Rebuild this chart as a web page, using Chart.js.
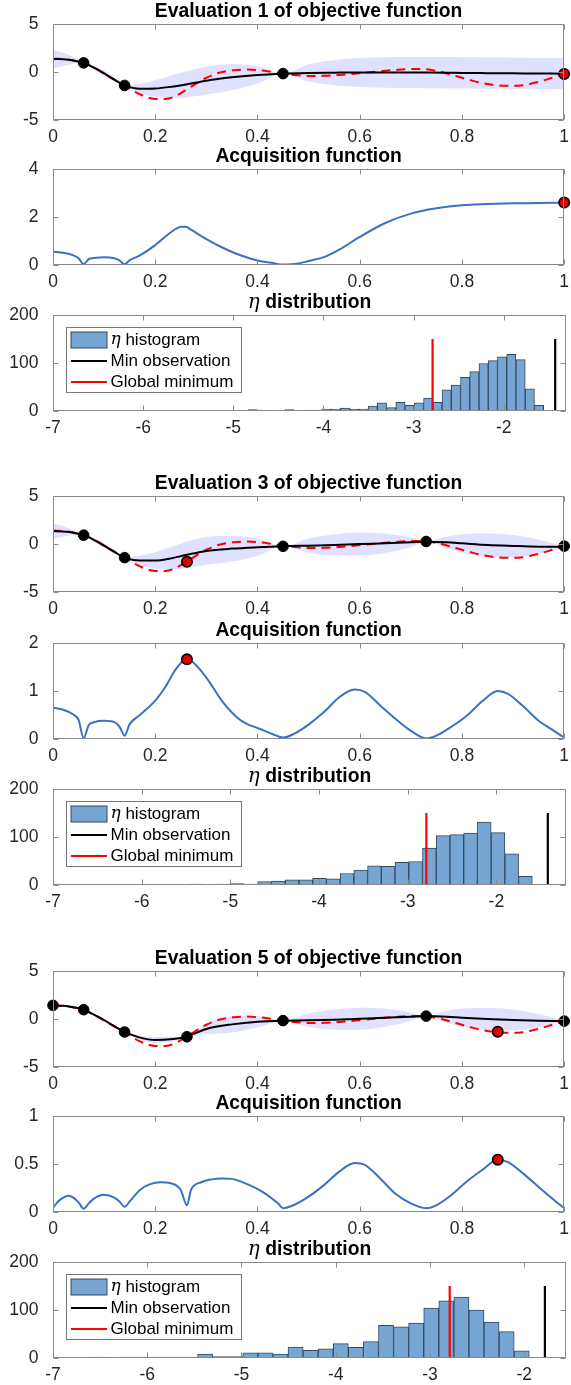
<!DOCTYPE html>
<html>
<head>
<meta charset="utf-8">
<script src="https://cdn.jsdelivr.net/npm/chart.js@4.4.1/dist/chart.umd.min.js"></script>
<style>
  html, body { margin: 0; padding: 0; background: #fff; }
  body { width: 571px; height: 1385px; position: relative; overflow: hidden; }
  canvas { position: absolute; left: 0; }
</style>
</head>
<body>
<script>
// ---- data ----
const panelTitles = [
  "Evaluation 1 of objective function", "Acquisition function", "η distribution",
  "Evaluation 3 of objective function", "Acquisition function", "η distribution",
  "Evaluation 5 of objective function", "Acquisition function", "η distribution"
];

// true objective (red dashed), same in every evaluation
const xTrue = [0, 0.02, 0.04, 0.06, 0.08, 0.10, 0.12, 0.14, 0.16, 0.18, 0.20, 0.22, 0.24, 0.26, 0.28, 0.30,
  0.32, 0.34, 0.36, 0.38, 0.40, 0.42, 0.45, 0.48, 0.50, 0.53, 0.56, 0.60, 0.64, 0.68, 0.71, 0.73,
  0.76, 0.79, 0.82, 0.85, 0.88, 0.91, 0.94, 0.97, 1.00];
const yTrue = [1.40, 1.35, 1.20, 0.95, 0.45, -0.15, -0.80, -1.40, -2.05, -2.55, -2.80, -2.80, -2.50, -1.88, -1.20, -0.60,
  -0.15, 0.10, 0.22, 0.25, 0.20, 0.08, -0.17, -0.35, -0.42, -0.40, -0.30, -0.12, 0.08, 0.25, 0.32, 0.28,
  0.00, -0.45, -0.90, -1.25, -1.42, -1.42, -1.15, -0.72, -0.20];

// GP mean and confidence band
const xObj = [0, 0.02, 0.04, 0.06, 0.08, 0.10, 0.12, 0.14, 0.17, 0.20, 0.23, 0.26, 0.30, 0.35, 0.40, 0.45,
  0.50, 0.55, 0.60, 0.65, 0.70, 0.73, 0.77, 0.80, 0.85, 0.90, 0.95, 1.00];
const mean1 = [1.35, 1.32, 1.20, 0.95, 0.45, -0.15, -0.80, -1.40, -1.75, -1.72, -1.55, -1.30, -0.90, -0.55, -0.30, -0.17,
  -0.10, -0.07, -0.05, -0.05, -0.05, -0.06, -0.08, -0.10, -0.12, -0.14, -0.16, -0.17];
const upper1 = [2.30, 2.02, 1.55, 0.95, 0.65, 0.13, -0.60, -1.40, -1.25, -0.87, -0.40, 0.05, 0.55, 0.80, 0.60, -0.17,
  0.80, 1.23, 1.45, 1.53, 1.57, 1.57, 1.55, 1.53, 1.51, 1.49, 1.47, 1.46];
const lower1 = [0.40, 0.62, 0.85, 0.95, 0.25, -0.43, -1.00, -1.40, -2.25, -2.57, -2.70, -2.65, -2.35, -1.90, -1.20, -0.17,
  -1.00, -1.37, -1.55, -1.63, -1.67, -1.69, -1.71, -1.73, -1.75, -1.77, -1.79, -1.80];

const mean3 = [1.35, 1.30, 1.18, 0.92, 0.42, -0.18, -0.82, -1.42, -1.72, -1.72, -1.50, -1.15, -0.72, -0.48, -0.34, -0.24,
  -0.17, -0.10, 0.00, 0.07, 0.17, 0.24, 0.17, 0.07, -0.10, -0.20, -0.28, -0.30];
const upper3 = [2.15, 1.85, 1.43, 0.92, 0.60, 0.07, -0.64, -1.42, -1.22, -0.87, -0.35, 0.20, 0.73, 0.87, 0.56, -0.24,
  0.58, 1.00, 1.20, 1.07, 0.67, 0.24, 0.77, 1.02, 1.10, 0.95, 0.47, -0.30];
const lower3 = [0.55, 0.75, 0.93, 0.92, 0.24, -0.43, -1.00, -1.42, -2.22, -2.57, -2.65, -2.50, -2.17, -1.83, -1.24, -0.24,
  -0.92, -1.20, -1.20, -0.93, -0.33, 0.24, -0.43, -0.88, -1.30, -1.35, -1.03, -0.30];

const mean5 = [1.42, 1.38, 1.22, 0.97, 0.45, -0.12, -0.75, -1.35, -1.94, -2.19, -2.12, -1.85, -1.04, -0.56, -0.28, -0.17,
  -0.14, -0.07, 0.03, 0.14, 0.24, 0.30, 0.24, 0.14, 0.00, -0.10, -0.17, -0.22];
const upper5 = [1.42, 1.43, 1.27, 0.97, 0.55, 0.00, -0.65, -1.35, -1.74, -1.89, -1.87, -1.85, -0.49, 0.29, 0.32, -0.17,
  0.56, 0.98, 1.18, 1.09, 0.69, 0.30, 0.84, 1.09, 1.15, 1.00, 0.53, -0.22];
const lower5 = [1.42, 1.33, 1.17, 0.97, 0.35, -0.24, -0.85, -1.35, -2.14, -2.49, -2.37, -1.85, -1.59, -1.41, -0.88, -0.17,
  -0.84, -1.12, -1.12, -0.81, -0.21, 0.30, -0.36, -0.81, -1.15, -1.20, -0.87, -0.22];

// observations (black) and the point evaluated now (red)
const obsX1 = [0.06, 0.14, 0.45];
const obsY1 = [0.95, -1.40, -0.17];
const obsX3 = [0.06, 0.14, 0.45, 0.73, 1.00];
const obsY3 = [0.92, -1.42, -0.24, 0.26, -0.22];
const obsX5 = [0, 0.06, 0.14, 0.262, 0.45, 0.73, 1.00];
const obsY5 = [1.42, 0.97, -1.35, -1.85, -0.17, 0.30, -0.22];
const nextX = [1.00, 0.262, 0.87];
const nextY = [-0.20, -1.86, -1.32];

// acquisition function
const acqX1 = [0, 0.02, 0.04, 0.05, 0.06, 0.07, 0.08, 0.10, 0.12, 0.13, 0.14, 0.15, 0.17, 0.20, 0.22, 0.24, 0.25, 0.26, 0.27,
  0.30, 0.33, 0.36, 0.40, 0.43, 0.45, 0.48, 0.50, 0.53, 0.56, 0.60, 0.65, 0.70, 0.75, 0.80, 0.85, 0.90, 0.95, 1.00];
const acqY1 = [0.56, 0.51, 0.40, 0.28, 0.03, 0.25, 0.29, 0.32, 0.28, 0.19, 0.03, 0.20, 0.40, 0.83, 1.19, 1.50, 1.59, 1.59, 1.47,
  1.08, 0.74, 0.46, 0.19, 0.08, 0.02, 0.06, 0.17, 0.33, 0.64, 1.17, 1.75, 2.14, 2.36, 2.49, 2.54, 2.57, 2.58, 2.60];
const acqX3 = [0, 0.02, 0.04, 0.05, 0.06, 0.07, 0.08, 0.10, 0.12, 0.13, 0.14, 0.15, 0.17, 0.20, 0.22, 0.24, 0.26, 0.27, 0.30,
  0.33, 0.36, 0.38, 0.40, 0.43, 0.45, 0.47, 0.50, 0.53, 0.56, 0.59, 0.61, 0.64, 0.67, 0.70, 0.73, 0.75, 0.78, 0.81, 0.84,
  0.87, 0.89, 0.92, 0.95, 0.98, 1.00];
const acqY3 = [0.65, 0.61, 0.51, 0.40, 0.02, 0.29, 0.35, 0.38, 0.35, 0.26, 0.07, 0.31, 0.50, 0.80, 1.09, 1.45, 1.65, 1.63, 1.28,
  0.80, 0.45, 0.31, 0.23, 0.10, 0.03, 0.10, 0.30, 0.56, 0.87, 1.03, 0.98, 0.70, 0.42, 0.17, 0.01, 0.07, 0.26, 0.49, 0.79,
  1.00, 0.94, 0.68, 0.38, 0.17, 0.03];
const acqX5 = [0, 0.01, 0.02, 0.03, 0.04, 0.05, 0.06, 0.07, 0.08, 0.10, 0.12, 0.13, 0.14, 0.15, 0.17, 0.19, 0.21, 0.23, 0.25,
  0.262, 0.27, 0.29, 0.31, 0.33, 0.35, 0.38, 0.41, 0.44, 0.45, 0.47, 0.50, 0.53, 0.56, 0.59, 0.61, 0.64, 0.67, 0.70, 0.73,
  0.75, 0.78, 0.81, 0.84, 0.87, 0.89, 0.92, 0.95, 0.98, 1.00];
const acqY5 = [0.045, 0.11, 0.15, 0.17, 0.15, 0.10, 0.035, 0.09, 0.14, 0.18, 0.15, 0.11, 0.055, 0.11, 0.23, 0.29, 0.31, 0.30, 0.23,
  0.07, 0.23, 0.31, 0.34, 0.35, 0.345, 0.29, 0.21, 0.09, 0.04, 0.07, 0.16, 0.28, 0.42, 0.51, 0.49, 0.35, 0.19, 0.09, 0.04,
  0.07, 0.18, 0.32, 0.44, 0.545, 0.52, 0.40, 0.26, 0.125, 0.04];
const acqMaxY = [2.60, 1.66, 0.545];

// eta histograms
const histStart = [-6.99, -7.013, -6.906];
const histWidth = [0.1025, 0.1548, 0.16];
const histCounts1 = [0, 0, 0, 1, 0, 0, 0, 0, 0, 0, 1, 0, 0, 0, 0, 0, 0, 0, 0, 1, 1, 3, 2, 1, 0, 3, 1, 2, 2, 4,
  4, 6, 4, 4, 10, 17, 7, 18, 12, 17, 27, 18, 44, 54, 70, 82, 99, 105, 113, 118, 107, 46, 12];
const histCounts3 = [2, 0, 0, 0, 0, 1, 1, 1, 1, 1, 2, 1, 2, 3, 2, 7, 8, 11, 11, 14, 13, 24, 31, 40, 39, 47, 49, 77,
  103, 105, 108, 131, 109, 65, 18];
const histCounts5 = [1, 0, 2, 0, 2, 2, 2, 2, 2, 8, 3, 3, 11, 11, 8, 23, 16, 19, 30, 22, 34, 68, 65, 73, 104, 119, 127,
  100, 75, 55, 15];
const histXMax = [-1.31, -1.215, -1.556];
const minObservation = [-1.43, -1.42, -1.78];
const globalMinimum = -2.79;
const markerHeight = 150;

// ---- layout / style ----
const plotTops = [24, 169, 315, 496, 643, 789, 971, 1116, 1262];
const FONT = '"Liberation Sans", Arial, Helvetica, sans-serif';
const TXT = "#262626";
const BOX = "#8a8a8a";
const BAND = "rgb(224,224,255)";
const ACQ = "#3a71c1";
const HIST = "rgb(119,166,212)";
const HIST_EDGE = "#34495e";

const pts = (xs, ys) => xs.map((x, i) => ({ x: x, y: ys[i] }));
const tickText = v => String(Math.round(v * 1000) / 1000);

// titles (η in TeX italic)
const titlePlugin = {
  id: "mtitle",
  afterDraw(chart, args, opts) {
    const { ctx, chartArea: a } = chart;
    const cx = (a.left + a.right) / 2, cy = a.top - 12.6;
    const bold = "bold 19.3px " + FONT;
    ctx.save();
    ctx.fillStyle = "#000";
    ctx.textBaseline = "middle";
    if (opts.text.startsWith("η")) {
      const f1 = 'italic 20px "DejaVu Serif", serif';
      const rest = opts.text.slice(1);
      ctx.font = f1; const w1 = ctx.measureText("η").width;
      ctx.font = bold; const w2 = ctx.measureText(rest).width;
      const x0 = cx - (w1 + w2) / 2;
      ctx.textAlign = "left";
      ctx.font = f1; ctx.fillText("η", x0, cy);
      ctx.font = bold; ctx.fillText(rest, x0 + w1, cy);
    } else {
      ctx.textAlign = "center";
      ctx.font = bold;
      ctx.fillText(opts.text, cx, cy);
    }
    ctx.restore();
  }
};

// MATLAB-like box with inward ticks on all sides
const boxPlugin = {
  id: "mbox",
  afterDatasetsDraw(chart) {
    const { ctx, chartArea: a, scales } = chart;
    const L = Math.round(a.left) + 0.5, R = Math.round(a.right) - 0.5;
    const T = Math.round(a.top) + 0.5, B = Math.round(a.bottom) - 0.5;
    const tl = 5;
    ctx.save();
    ctx.strokeStyle = BOX;
    ctx.lineWidth = 1;
    ctx.strokeRect(L, T, R - L, B - T);
    ctx.beginPath();
    scales.x.ticks.forEach(t => {
      const px = Math.round(scales.x.getPixelForValue(t.value)) + 0.5;
      ctx.moveTo(px, B); ctx.lineTo(px, B - tl);
      ctx.moveTo(px, T); ctx.lineTo(px, T + tl);
    });
    scales.y.ticks.forEach(t => {
      const py = Math.round(scales.y.getPixelForValue(t.value)) + 0.5;
      ctx.moveTo(L, py); ctx.lineTo(L + tl, py);
      ctx.moveTo(R, py); ctx.lineTo(R - tl, py);
    });
    ctx.stroke();
    ctx.restore();
  }
};

// boxed legend inside the histogram axes
const legendPlugin = {
  id: "mlegend",
  afterDraw(chart) {
    const { ctx, chartArea: a } = chart;
    const L = a.left + 12.5, T = a.top + 12, W = 175, H = 65;
    ctx.save();
    ctx.fillStyle = "#fff";
    ctx.fillRect(L, T, W, H);
    ctx.strokeStyle = "#777";
    ctx.lineWidth = 1;
    ctx.strokeRect(Math.round(L) + 0.5, Math.round(T) + 0.5, W, H);
    ctx.textBaseline = "middle";
    ctx.textAlign = "left";
    chart.data.datasets.forEach((ds, i) => {
      const cy = T + 13 + 21 * i;
      if (ds.type === "bar") {
        ctx.fillStyle = HIST;
        ctx.fillRect(L + 5.5, cy - 8, 36, 16);
        ctx.strokeStyle = HIST_EDGE;
        ctx.strokeRect(L + 5.5, cy - 8, 36, 16);
      } else {
        ctx.strokeStyle = ds.borderColor;
        ctx.lineWidth = 2;
        ctx.beginPath();
        ctx.moveTo(L + 5.5, cy); ctx.lineTo(L + 41.5, cy);
        ctx.stroke();
      }
      ctx.fillStyle = "#000";
      let x = L + 45;
      let text = ds.label;
      if (text.startsWith("η")) {
        ctx.font = 'italic 17px "DejaVu Serif", serif';
        ctx.fillText("η", x, cy);
        x += ctx.measureText("η").width;
        text = text.slice(1);
      }
      ctx.font = "17px " + FONT;
      ctx.fillText(text, x, cy);
    });
    ctx.restore();
  }
};

const CANVAS_H = 155, X_AXIS_H = 34, TITLE_H = 25;

function makeContext(i) {
  const c = document.createElement("canvas");
  c.width = 571; c.height = CANVAS_H;
  c.style.width = "571px"; c.style.height = CANVAS_H + "px";
  c.style.top = (plotTops[i] - TITLE_H) + "px";
  document.body.appendChild(c);
  return c.getContext("2d");
}

function axisOptions(i, xr, yr) {
  const tickFont = { family: FONT, size: 17.5 };
  return {
    responsive: false,
    animation: false,
    devicePixelRatio: 1,
    layout: { padding: { top: TITLE_H, left: 0, right: 0, bottom: 0 } },
    plugins: { legend: { display: false }, tooltip: { enabled: false }, mtitle: { text: panelTitles[i] } },
    elements: { point: { radius: 0 } },
    scales: {
      x: {
        type: "linear", min: xr[0], max: xr[1], offset: false,
        grid: { display: false }, border: { display: false },
        ticks: { stepSize: xr[2], includeBounds: false, autoSkip: false, maxRotation: 0, padding: 0,
          color: TXT, font: { family: FONT, size: 17.5, lineHeight: 1 }, callback: tickText },
        afterFit: s => { s.height = X_AXIS_H; s.paddingLeft = 0; s.paddingRight = 5; s.paddingTop = 0; s.paddingBottom = 0; }
      },
      y: {
        type: "linear", min: yr[0], max: yr[1],
        grid: { display: false }, border: { display: false },
        ticks: { stepSize: yr[2], includeBounds: false, autoSkip: false, padding: 6.5,
          color: TXT, font: tickFont, callback: tickText },
        afterFit: s => { s.width = 53; s.paddingTop = 0; s.paddingBottom = 0; s.paddingLeft = 0; s.paddingRight = 0; }
      }
    }
  };
}

// objective panels
function objectiveChart(i, obsX, obsY, nx, ny, mean, upper, lower) {
  new Chart(makeContext(i), {
    type: "line",
    data: {
      datasets: [
        { data: pts(obsX, obsY), showLine: false, pointRadius: 5.3, pointBackgroundColor: "#000",
          pointBorderColor: "#000", pointBorderWidth: 1, clip: false },
        { data: [{ x: nx, y: ny }], showLine: false, pointRadius: 5.2, pointBackgroundColor: "#e00000",
          pointBorderColor: "#000", pointBorderWidth: 1.6, clip: false },
        { data: pts(xObj, mean), borderColor: "#000", borderWidth: 2, cubicInterpolationMode: "monotone" },
        { data: pts(xTrue, yTrue), borderColor: "#f00", borderWidth: 2, borderDash: [9, 6], cubicInterpolationMode: "monotone" },
        { data: pts(xObj, upper), borderColor: "rgba(0,0,0,0)", borderWidth: 0, fill: "+1", backgroundColor: BAND,
          cubicInterpolationMode: "monotone" },
        { data: pts(xObj, lower), borderColor: "rgba(0,0,0,0)", borderWidth: 0, fill: false,
          cubicInterpolationMode: "monotone" }
      ]
    },
    options: axisOptions(i, [0, 1, 0.2], [-5, 5, 5]),
    plugins: [titlePlugin, boxPlugin]
  });
}

// acquisition panels
function acquisitionChart(i, xs, ys, mx, my, yr) {
  new Chart(makeContext(i), {
    type: "line",
    data: {
      datasets: [
        { data: [{ x: mx, y: my }], showLine: false, pointRadius: 5.2, pointBackgroundColor: "#e00000",
          pointBorderColor: "#000", pointBorderWidth: 1.6, clip: false },
        { data: pts(xs, ys), borderColor: ACQ, borderWidth: 2, cubicInterpolationMode: "monotone" }
      ]
    },
    options: axisOptions(i, [0, 1, 0.2], yr),
    plugins: [titlePlugin, boxPlugin]
  });
}

// eta histogram panels
function histogramChart(i, k, counts) {
  const bars = counts.map((c, j) => ({ x: histStart[k] + histWidth[k] * (j + 0.5), y: c || null }));
  const vline = v => [{ x: v, y: 0 }, { x: v, y: markerHeight }];
  new Chart(makeContext(i), {
    type: "bar",
    data: {
      datasets: [
        { type: "bar", label: "η histogram", data: bars, backgroundColor: HIST, borderColor: HIST_EDGE,
          borderWidth: 1, borderSkipped: false, barPercentage: 1, categoryPercentage: 1, order: 2 },
        { type: "line", label: "Min observation", data: vline(minObservation[k]), borderColor: "#000",
          borderWidth: 2.2, pointRadius: 0, order: 0 },
        { type: "line", label: "Global minimum", data: vline(globalMinimum), borderColor: "#f00",
          borderWidth: 2.2, pointRadius: 0, order: 1 }
      ]
    },
    options: axisOptions(i, [-7, histXMax[k], 1], [0, 200, 100]),
    plugins: [titlePlugin, boxPlugin, legendPlugin]
  });
}

objectiveChart(0, obsX1, obsY1, nextX[0], nextY[0], mean1, upper1, lower1);
acquisitionChart(1, acqX1, acqY1, nextX[0], acqMaxY[0], [0, 4, 2]);
histogramChart(2, 0, histCounts1);
objectiveChart(3, obsX3, obsY3, nextX[1], nextY[1], mean3, upper3, lower3);
acquisitionChart(4, acqX3, acqY3, nextX[1], acqMaxY[1], [0, 2, 1]);
histogramChart(5, 1, histCounts3);
objectiveChart(6, obsX5, obsY5, nextX[2], nextY[2], mean5, upper5, lower5);
acquisitionChart(7, acqX5, acqY5, nextX[2], acqMaxY[2], [0, 1, 0.5]);
histogramChart(8, 2, histCounts5);
</script>
</body>
</html>
